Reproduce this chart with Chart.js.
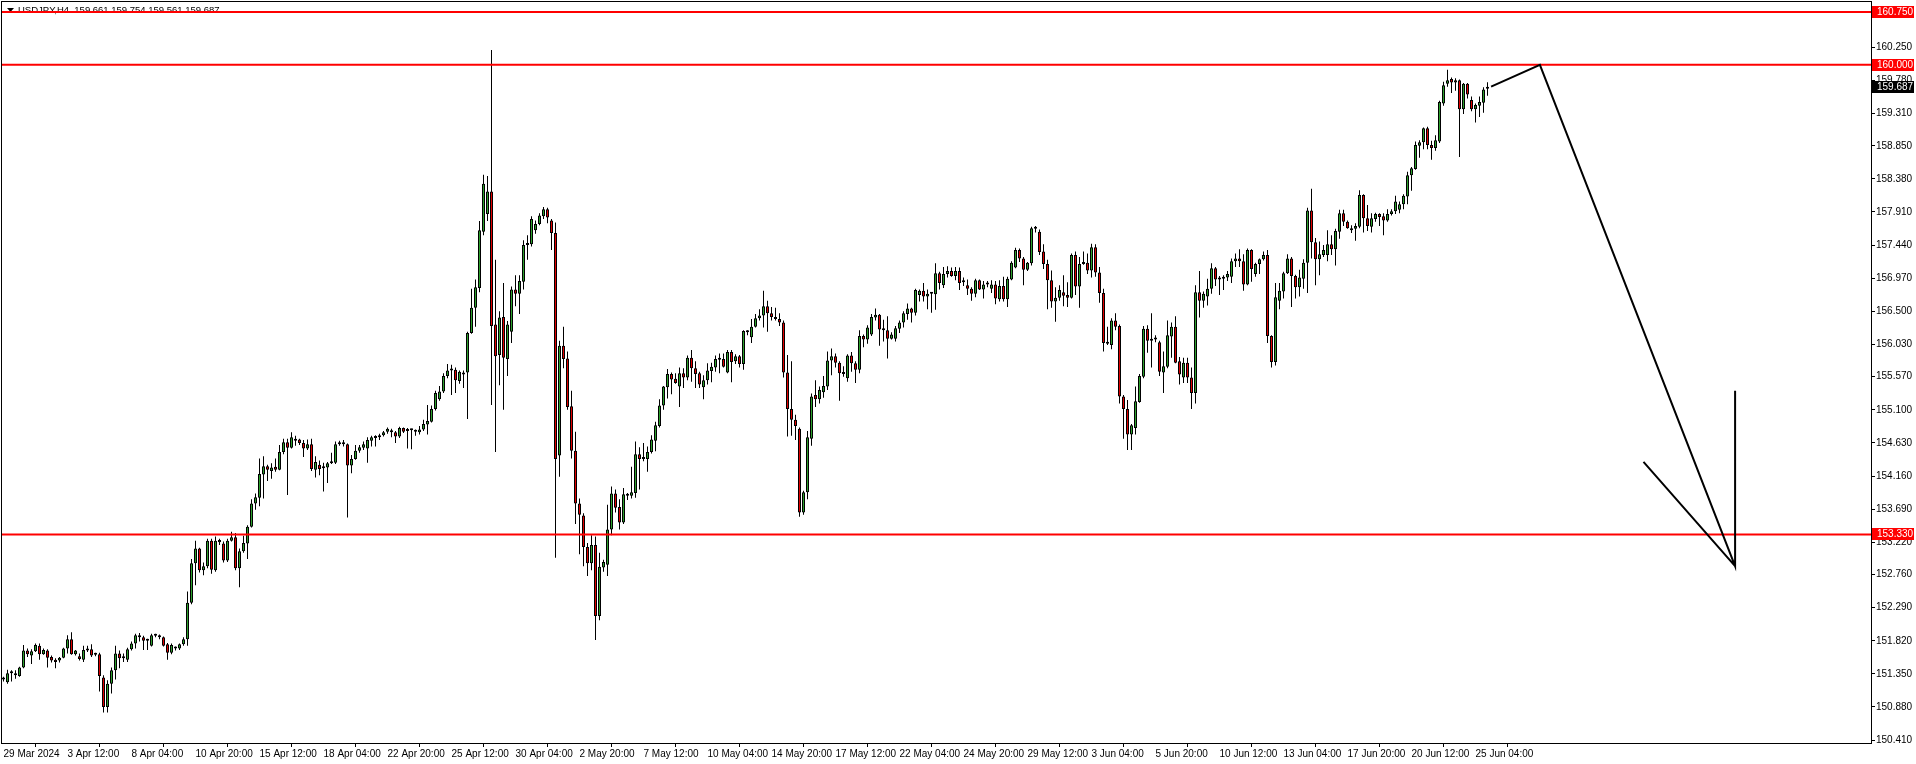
<!DOCTYPE html>
<html>
<head>
<meta charset="utf-8">
<title>USDJPY,H4</title>
<script src="https://cdn.jsdelivr.net/npm/chart.js@4.4.1/dist/chart.umd.min.js"></script>
<style>
  html, body { margin: 0; padding: 0; background: #fff; overflow: hidden; }
  canvas { display: block; }
</style>
</head>
<body>
<canvas id="chart" width="1916" height="764"></canvas>
<script>
// USDJPY H4 candles, 29 Mar 2024 20:00 -> 25 Jun 2024 16:00 (one per bar index)
const opens = [
  151.27,151.23,151.36,151.36,151.32,151.44,151.68,151.61,151.67,151.75,
  151.63,151.68,151.59,151.55,151.54,151.58,151.71,151.84,151.63,151.60,
  151.55,151.68,151.70,151.62,151.63,151.30,150.88,151.21,151.40,151.64,
  151.57,151.55,151.70,151.78,151.90,151.87,151.82,151.75,151.89,151.89,
  151.87,151.77,151.65,151.72,151.71,151.77,151.84,152.36,152.92,153.13,
  152.82,152.88,153.24,152.82,153.22,153.20,152.96,153.24,153.29,152.85,
  153.09,153.20,153.44,153.77,153.85,154.18,154.30,154.23,154.29,154.25,
  154.50,154.64,154.56,154.69,154.68,154.63,154.55,154.61,154.25,154.32,
  154.28,154.28,154.34,154.35,154.61,154.62,154.61,154.31,154.40,154.52,
  154.56,154.55,154.66,154.70,154.71,154.74,154.79,154.79,154.78,154.72,
  154.84,154.80,154.82,154.80,154.78,154.82,154.89,154.93,155.11,155.25,
  155.36,155.58,155.66,155.67,155.51,155.63,155.63,156.19,156.55,156.83,
  157.63,157.88,158.20,156.31,155.88,156.42,155.82,156.21,156.81,156.75,
  156.92,157.44,157.45,157.65,157.74,157.85,157.95,157.79,157.61,154.45,
  156.01,155.83,155.15,154.52,153.77,153.60,153.15,152.92,153.18,152.17,
  152.86,152.90,153.40,153.91,153.72,153.50,153.88,153.88,153.92,154.47,
  154.40,154.40,154.50,154.66,154.87,155.16,155.42,155.61,155.54,155.43,
  155.62,155.56,155.84,155.69,155.62,155.42,155.52,155.65,155.70,155.81,
  155.82,155.63,155.92,155.79,155.86,155.75,156.21,156.13,156.28,156.40,
  156.44,156.57,156.47,156.41,156.39,156.34,155.63,155.11,154.96,154.83,
  153.64,153.93,154.69,155.31,155.25,155.35,155.43,155.80,155.86,155.77,
  155.61,155.55,155.87,155.76,155.67,156.15,156.10,156.17,156.41,156.45,
  156.24,156.23,156.11,156.11,156.25,156.34,156.46,156.54,156.48,156.73,
  156.79,156.71,156.75,156.74,157.04,156.87,157.03,157.07,157.00,157.07,
  156.91,156.87,156.82,156.75,156.94,156.81,156.88,156.82,156.88,156.67,
  156.86,156.67,156.95,157.12,157.37,157.25,157.09,157.18,157.68,157.63,
  157.35,157.17,156.94,156.64,156.69,156.77,156.73,156.69,157.30,156.85,
  157.17,157.19,157.08,157.41,157.05,156.76,156.05,156.02,156.37,156.29,
  155.29,155.11,154.75,154.84,155.21,155.57,156.25,156.08,156.11,156.06,
  155.63,155.71,156.14,156.28,155.79,155.56,155.77,155.56,155.34,156.77,
  156.65,156.71,156.82,157.11,156.95,156.96,156.98,156.99,157.21,157.25,
  157.21,156.88,157.37,157.03,157.17,157.24,157.30,156.15,155.78,156.65,
  156.78,157.04,157.25,157.00,156.84,156.96,157.19,157.93,157.48,157.24,
  157.30,157.30,157.45,157.38,157.63,157.89,157.77,157.65,157.67,157.70,
  158.15,157.82,157.70,157.81,157.88,157.85,157.79,157.88,157.92,157.94,
  158.02,158.13,158.43,158.52,158.85,158.90,159.10,158.86,158.82,158.91,
  159.45,159.73,159.80,159.75,159.78,159.37,159.73,159.50,159.37,159.42,
  159.46,159.661
];
const highs = [
  151.31,151.41,151.40,151.40,151.45,151.76,151.71,151.70,151.78,151.78,
  151.71,151.70,151.61,151.57,151.59,151.72,151.90,151.94,151.69,151.64,
  151.75,151.75,151.77,151.65,151.65,151.33,151.26,151.44,151.75,151.68,
  151.64,151.72,151.81,151.92,151.93,151.89,151.85,151.92,151.92,151.91,
  151.88,151.79,151.78,151.74,151.78,151.87,152.52,152.98,153.24,153.14,
  152.93,153.27,153.27,153.30,153.27,153.23,153.27,153.37,153.35,153.13,
  153.31,153.46,153.83,153.91,154.41,154.44,154.32,154.34,154.41,154.60,
  154.69,154.69,154.78,154.73,154.69,154.67,154.68,154.69,154.44,154.38,
  154.35,154.36,154.49,154.65,154.66,154.67,154.62,154.46,154.60,154.60,
  154.65,154.71,154.73,154.74,154.76,154.80,154.85,154.83,154.80,154.86,
  154.85,154.84,154.83,154.82,154.87,154.96,155.17,155.16,155.37,155.44,
  155.62,155.75,155.74,155.70,155.66,155.66,156.21,156.82,156.95,157.78,
  158.44,158.42,160.21,157.23,156.50,156.90,156.36,156.85,157.01,157.01,
  157.51,157.58,157.85,157.79,157.89,157.98,157.97,157.81,157.76,156.08,
  156.28,155.93,155.37,154.79,153.84,153.63,153.21,153.32,153.30,153.07,
  152.97,153.75,154.01,153.97,153.83,153.99,153.92,154.29,154.65,154.57,
  154.63,154.58,154.74,154.93,155.25,155.44,155.68,155.63,155.62,155.70,
  155.69,155.87,155.95,155.79,155.64,155.59,155.76,155.77,155.87,155.90,
  155.90,155.95,155.95,155.89,155.88,156.23,156.23,156.39,156.46,156.53,
  156.79,156.65,156.56,156.55,156.47,156.37,155.88,155.79,155.03,154.85,
  153.95,154.80,155.33,155.52,155.43,155.58,155.93,155.97,155.90,155.79,
  155.72,155.89,155.92,155.79,156.23,156.17,156.30,156.46,156.54,156.46,
  156.38,156.43,156.20,156.29,156.37,156.50,156.61,156.55,156.82,156.81,
  156.90,156.81,156.77,157.18,157.06,157.13,157.14,157.12,157.13,157.12,
  156.98,156.95,156.84,156.96,156.95,156.93,156.93,156.94,156.93,156.94,
  156.99,156.99,157.21,157.40,157.39,157.27,157.20,157.70,157.71,157.66,
  157.45,157.23,157.08,156.84,156.87,157.01,156.91,157.32,157.35,157.27,
  157.35,157.32,157.46,157.45,157.13,156.82,156.28,156.40,156.47,156.31,
  155.31,155.24,154.90,155.43,155.61,156.29,156.30,156.47,156.16,156.08,
  155.93,156.37,156.34,156.43,155.85,155.84,155.84,155.70,156.87,157.07,
  156.78,156.96,157.18,157.13,157.00,157.01,157.07,157.25,157.32,157.38,
  157.31,157.39,157.38,157.19,157.25,157.35,157.37,156.16,156.90,156.90,
  157.06,157.31,157.27,157.02,157.09,157.24,157.97,158.24,157.54,157.49,
  157.44,157.65,157.58,157.67,157.94,157.94,157.79,157.72,157.75,158.22,
  158.16,158.01,157.89,157.90,157.89,157.89,157.95,157.95,158.14,158.06,
  158.16,158.48,158.55,158.91,158.93,159.11,159.12,158.92,159.00,159.49,
  159.76,159.93,159.82,159.81,159.79,159.74,159.74,159.55,159.45,159.55,
  159.68,159.754
];
const lows = [
  151.24,151.21,151.24,151.28,151.31,151.43,151.59,151.49,151.66,151.55,
  151.62,151.44,151.51,151.43,151.51,151.57,151.64,151.62,151.61,151.54,
  151.52,151.66,151.59,151.60,151.10,150.80,150.80,151.07,151.27,151.43,
  151.52,151.52,151.68,151.71,151.81,151.69,151.69,151.74,151.87,151.84,
  151.74,151.55,151.63,151.68,151.69,151.75,151.75,152.34,152.61,152.79,
  152.75,152.85,152.77,152.80,153.18,152.93,152.94,153.23,152.82,152.58,
  153.07,152.98,153.43,153.68,153.73,153.84,154.09,154.12,154.22,154.24,
  154.47,153.89,154.55,154.59,154.60,154.43,154.53,154.23,154.14,154.17,
  153.94,154.06,154.33,154.33,154.59,154.58,153.57,154.20,154.39,154.49,
  154.53,154.35,154.58,154.58,154.67,154.72,154.76,154.71,154.63,154.70,
  154.77,154.55,154.54,154.73,154.75,154.80,154.75,154.92,155.09,155.23,
  155.34,155.55,155.31,155.34,155.47,155.41,154.97,156.18,156.28,156.77,
  157.58,157.78,155.17,154.50,155.45,155.10,155.58,156.05,156.57,156.46,
  156.81,157.23,157.42,157.60,157.72,157.81,157.75,157.37,153.00,154.15,
  155.69,155.10,154.41,153.48,153.05,152.88,152.74,152.82,151.83,152.11,
  152.80,152.74,153.32,153.64,153.40,153.48,153.82,153.84,153.85,153.97,
  154.37,154.22,154.48,154.51,154.85,155.10,155.26,155.32,155.47,155.14,
  155.41,155.52,155.50,155.41,155.41,155.25,155.46,155.49,155.64,155.62,
  155.70,155.62,155.49,155.75,155.70,155.67,156.16,156.05,156.27,156.37,
  156.27,156.21,156.37,156.37,156.29,155.56,154.72,154.73,154.67,153.58,
  153.61,153.83,154.59,155.14,155.19,155.27,155.38,155.59,155.70,155.23,
  155.57,155.50,155.64,155.48,155.62,155.99,156.04,156.15,156.37,156.01,
  156.07,155.83,156.10,156.07,156.19,156.27,156.38,156.34,156.44,156.64,
  156.64,156.53,156.48,156.52,156.81,156.83,156.98,156.99,156.94,156.80,
  156.86,156.73,156.65,156.70,156.80,156.68,156.84,156.76,156.60,156.64,
  156.64,156.56,156.94,157.11,157.20,156.87,157.07,157.15,157.62,157.30,
  157.10,156.53,156.55,156.35,156.65,156.57,156.56,156.68,156.73,156.55,
  157.16,157.03,156.98,156.99,156.62,155.93,156.02,155.96,156.23,155.19,
  154.69,154.53,154.53,154.75,155.20,155.55,155.91,155.70,156.06,155.58,
  155.34,155.69,155.84,155.76,155.46,155.48,155.48,155.11,155.19,156.41,
  156.55,156.58,156.75,156.86,156.73,156.80,156.93,156.90,157.13,157.13,
  156.79,156.87,156.92,156.99,157.03,157.22,156.05,155.70,155.73,156.53,
  156.68,157.03,156.56,156.68,156.71,156.82,156.76,157.25,156.87,157.01,
  157.27,157.21,157.30,157.15,157.53,157.71,157.67,157.61,157.50,157.68,
  157.62,157.64,157.62,157.77,157.71,157.58,157.77,157.86,157.88,157.89,
  157.95,158.02,158.21,158.51,158.68,158.80,158.80,158.65,158.78,158.89,
  159.42,159.69,159.60,159.63,158.69,159.30,159.52,159.34,159.18,159.26,
  159.32,159.561
];
const closes = [
  151.28,151.36,151.37,151.33,151.44,151.68,151.63,151.67,151.76,151.63,
  151.69,151.58,151.54,151.52,151.58,151.71,151.84,151.63,151.68,151.56,
  151.69,151.70,151.61,151.63,151.32,150.88,151.21,151.40,151.64,151.57,
  151.60,151.70,151.78,151.90,151.87,151.82,151.84,151.90,151.90,151.87,
  151.75,151.65,151.76,151.71,151.77,151.84,152.36,152.92,153.13,152.82,
  152.88,153.24,152.83,153.24,153.25,152.96,153.24,153.29,152.85,153.09,
  153.21,153.44,153.77,153.86,154.19,154.30,154.25,154.28,154.25,154.50,
  154.64,154.56,154.71,154.66,154.63,154.55,154.61,154.26,154.36,154.26,
  154.27,154.34,154.36,154.61,154.64,154.61,154.31,154.40,154.52,154.57,
  154.61,154.67,154.71,154.71,154.74,154.78,154.83,154.78,154.72,154.84,
  154.79,154.81,154.81,154.79,154.82,154.90,154.94,155.11,155.34,155.36,
  155.58,155.66,155.68,155.52,155.64,155.60,156.19,156.55,156.84,157.65,
  158.31,158.20,156.29,155.86,156.41,155.84,156.31,156.81,156.75,156.93,
  157.44,157.46,157.81,157.74,157.86,157.95,157.83,157.61,154.40,156.01,
  155.82,155.14,154.52,153.77,153.61,153.15,152.92,153.18,152.17,152.87,
  152.94,153.40,153.91,153.71,153.50,153.90,153.89,153.93,154.47,154.40,
  154.41,154.50,154.68,154.88,155.16,155.43,155.61,155.53,155.48,155.62,
  155.56,155.84,155.69,155.61,155.46,155.52,155.66,155.71,155.82,155.82,
  155.71,155.92,155.78,155.86,155.75,156.22,156.20,156.28,156.40,156.44,
  156.57,156.47,156.42,156.39,156.34,155.63,155.11,154.96,154.87,153.64,
  153.93,154.71,155.29,155.25,155.38,155.44,155.80,155.86,155.77,155.62,
  155.62,155.87,155.76,155.67,156.15,156.10,156.27,156.42,156.45,156.24,
  156.23,156.11,156.17,156.26,156.34,156.47,156.54,156.48,156.80,156.79,
  156.71,156.75,156.76,157.04,156.90,157.03,157.07,157.00,157.07,156.90,
  156.92,156.82,156.75,156.94,156.81,156.88,156.89,156.88,156.68,156.86,
  156.67,156.96,157.19,157.37,157.25,157.09,157.19,157.68,157.67,157.34,
  157.17,156.94,156.64,156.69,156.80,156.72,156.69,157.30,156.85,157.17,
  157.20,157.08,157.41,157.05,156.76,156.05,156.04,156.37,156.28,155.29,
  155.11,154.75,154.88,155.22,155.58,156.25,156.08,156.11,156.10,155.64,
  155.72,156.16,156.28,155.77,155.60,155.77,155.56,155.34,156.77,156.65,
  156.75,156.82,157.11,156.95,156.98,156.99,157.03,157.21,157.25,157.21,
  156.88,157.37,157.10,157.17,157.24,157.30,156.15,155.78,156.70,156.79,
  157.04,157.25,157.00,156.84,156.98,157.19,157.93,157.48,157.24,157.31,
  157.37,157.45,157.38,157.64,157.89,157.77,157.68,157.68,157.71,158.15,
  157.82,157.71,157.82,157.88,157.84,157.79,157.88,157.92,158.06,158.02,
  158.14,158.43,158.53,158.86,158.90,159.10,158.86,158.82,158.93,159.47,
  159.71,159.78,159.75,159.78,159.37,159.73,159.58,159.37,159.43,159.47,
  159.65,159.687
];

// time axis labels, placed on bar indices
const xTickIdx = [0, 16, 32, 48, 64, 80, 96, 112, 128, 144, 160, 176, 192, 208, 224, 240, 256, 272, 288, 304, 320, 336, 352, 368];
const xTickLabels = ['29 Mar 2024', '3 Apr 12:00', '8 Apr 04:00', '10 Apr 20:00', '15 Apr 12:00', '18 Apr 04:00',
  '22 Apr 20:00', '25 Apr 12:00', '30 Apr 04:00', '2 May 20:00', '7 May 12:00', '10 May 04:00', '14 May 20:00',
  '17 May 12:00', '22 May 04:00', '24 May 20:00', '29 May 12:00', '3 Jun 04:00', '5 Jun 20:00', '10 Jun 12:00',
  '13 Jun 04:00', '17 Jun 20:00', '20 Jun 12:00', '25 Jun 04:00'];

// price axis labels
const yTickValues = [150.41, 150.88, 151.35, 151.82, 152.29, 152.76, 153.22, 153.69, 154.16, 154.63, 155.10,
  155.57, 156.03, 156.50, 156.97, 157.44, 157.91, 158.38, 158.85, 159.31, 159.78, 160.25, 160.72];

// horizontal levels and the price tags on the axis
const levelPrices = [160.75, 160.00, 153.33];
const tagPrices = [160.75, 160.00, 159.687, 153.33];
const tagColors = ['#FF0000', '#FF0000', '#000000', '#FF0000'];

// hand drawn arrow (bar index, price), null splits the strokes
const arrowX = [371.9, 384.1, 432.9, 432.9, null, 410.0, 432.9];
const arrowY = [159.69, 160.00, 152.88, 155.37, null, 154.36, 152.88];

const header = 'USDJPY,H4  159.661 159.754 159.561 159.687';

const X_MIN = -0.375, X_MAX = 466.875;
const Y_MIN = 150.368, Y_MAX = 160.892;
const FONT = "'Liberation Sans', Arial, sans-serif";
const BULL = '#2CA02C';
const BEAR = '#E00000';

const idx = opens.map((_, i) => i);
const bodyColors = idx.map(i => closes[i] >= opens[i] ? BULL : BEAR);

const framePlugin = {
  id: 'frame',
  beforeDatasetsDraw(chart) {
    const ctx = chart.ctx;
    ctx.save();
    ctx.fillStyle = '#000';
    ctx.beginPath();
    ctx.moveTo(7, 8);
    ctx.lineTo(14, 8);
    ctx.lineTo(10.5, 12);
    ctx.closePath();
    ctx.fill();
    ctx.font = '9.5px ' + FONT;
    ctx.textBaseline = 'middle';
    ctx.fillText(header, 18, 10);
    ctx.restore();
  },
  afterDraw(chart) {
    const { ctx, chartArea: a } = chart;
    const ys = chart.scales.y;
    ctx.save();
    ctx.strokeStyle = '#000';
    ctx.lineWidth = 1;
    ctx.strokeRect(a.left - 0.5, a.top - 0.5, a.right - a.left + 1, a.bottom - a.top + 1);
    ctx.font = '10px ' + FONT;
    ctx.textBaseline = 'middle';
    tagPrices.forEach((p, k) => {
      const y = Math.round(ys.getPixelForValue(p));
      ctx.fillStyle = tagColors[k];
      ctx.fillRect(a.right + 1, y - 6, 42, 12);
      ctx.fillStyle = '#fff';
      ctx.fillText(p.toFixed(3), a.right + 6, y + 0.5);
    });
    ctx.restore();
  }
};

new Chart(document.getElementById('chart'), {
  type: 'bar',
  data: {
    datasets: [
      {
        label: 'wicks',
        data: idx.map(i => ({ x: i, y: [lows[i], highs[i]] })),
        backgroundColor: '#000',
        borderWidth: 0,
        barThickness: 1,
        inflateAmount: 0,
        grouped: false,
        order: 4
      },
      {
        label: 'bodies',
        data: idx.map(i => ({ x: i, y: [opens[i], closes[i]] })),
        backgroundColor: bodyColors,
        borderColor: '#000',
        borderWidth: 1,
        borderSkipped: false,
        barThickness: 3,
        minBarLength: 2,
        inflateAmount: 0,
        grouped: false,
        order: 3
      },
      ...levelPrices.map(p => ({
        type: 'line',
        label: 'level ' + p,
        data: [{ x: X_MIN, y: p }, { x: X_MAX, y: p }],
        borderColor: '#FF0000',
        borderWidth: 2,
        pointRadius: 0,
        fill: false,
        order: 2
      })),
      {
        type: 'line',
        label: 'arrow',
        data: arrowX.map((x, k) => ({ x: x === null ? 420 : x, y: arrowY[k] })),
        borderColor: '#000',
        borderWidth: 2,
        pointRadius: 0,
        fill: false,
        spanGaps: false,
        order: 1
      }
    ]
  },
  options: {
    responsive: false,
    animation: false,
    devicePixelRatio: 1,
    layout: { padding: { left: 2, top: 2, right: 0, bottom: 0 } },
    plugins: { legend: { display: false }, tooltip: { enabled: false } },
    scales: {
      x: {
        type: 'linear',
        min: X_MIN,
        max: X_MAX,
        offset: false,
        grid: { drawOnChartArea: false, drawTicks: true, tickLength: 4, color: '#000' },
        border: { display: true, color: '#000' },
        ticks: {
          autoSkip: false,
          maxRotation: 0,
          align: 'start',
          padding: 1,
          color: '#000',
          font: { family: FONT, size: 10 },
          callback: (v, i) => xTickLabels[i]
        },
        afterBuildTicks: s => { s.ticks = xTickIdx.map(v => ({ value: v })); },
        afterFit: s => { s.height = 21; s.paddingLeft = 0; s.paddingRight = 0; }
      },
      y: {
        type: 'linear',
        position: 'right',
        min: Y_MIN,
        max: Y_MAX,
        grid: { drawOnChartArea: false, drawTicks: true, tickLength: 4, color: '#000' },
        border: { display: true, color: '#000' },
        ticks: {
          autoSkip: false,
          padding: 1,
          color: '#000',
          font: { family: FONT, size: 10 },
          callback: v => Number(v).toFixed(3)
        },
        afterBuildTicks: s => { s.ticks = yTickValues.map(v => ({ value: v })); },
        afterFit: s => { s.width = 45; s.paddingTop = 0; s.paddingBottom = 0; }
      }
    }
  },
  plugins: [framePlugin]
});
</script>
</body>
</html>
